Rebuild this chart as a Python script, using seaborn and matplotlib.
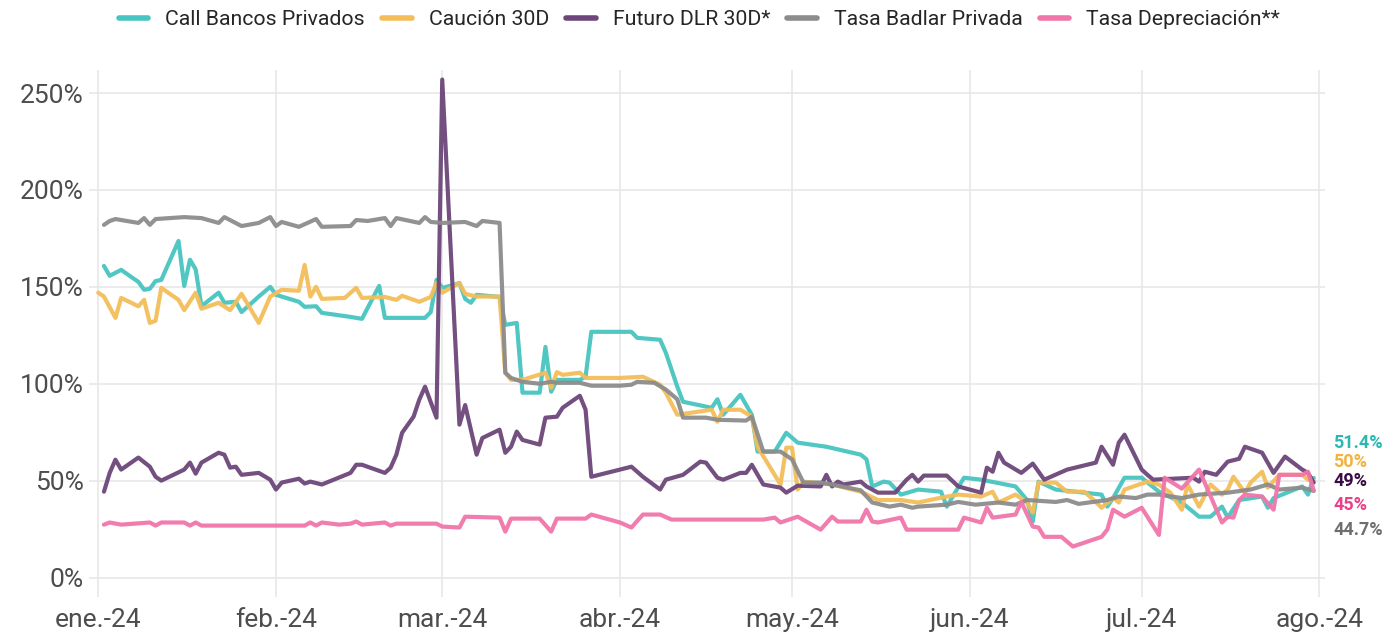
import numpy as np
import pandas as pd
import seaborn as sns
import matplotlib.pyplot as plt
from matplotlib.ticker import PercentFormatter
from matplotlib.transforms import blended_transform_factory

# DATA ###################################################################
# dias = days since 2024-01-01
series_names = ["Call Bancos Privados", "Caución 30D", "Futuro DLR 30D*",
                "Tasa Badlar Privada", "Tasa Depreciación**"]

call_dias = [1, 2, 4, 6, 7, 8, 9, 10, 11, 14, 15, 16, 17, 18, 21, 22, 24, 25, 28, 30,
             31, 35, 36, 38, 39, 44, 46, 49, 50, 57, 58, 59, 60, 62, 63, 64, 65, 66, 70, 71,
             73, 74, 77, 78, 79, 80, 84, 85, 86, 93, 94, 98, 99, 101, 102, 107, 108, 109, 112, 114,
             115, 118, 120, 122, 127, 133, 134, 135, 137, 138, 140, 143, 147, 148, 151, 154, 160, 162, 163, 164,
             167, 175, 176, 177, 179, 182, 185, 189, 192, 194, 196, 197, 199, 203, 204, 205, 210, 211, 212]
call_vals = [160.8, 155.7, 158.8, 154.6, 152.6, 148.5, 149, 153, 153.6, 173.7, 150.5, 164, 159, 140, 147, 141.8, 142.3, 137, 145, 150,
             145.9, 142.3, 139.7, 140, 136.6, 134.5, 133.5, 150.5, 134, 134, 137, 153.6, 149.5, 151, 152, 143.8, 141.8, 145.9, 144.8, 130.4,
             131.4, 95.4, 95.4, 119, 95.9, 102, 102, 103.6, 126.8, 126.8, 123.7, 122.7, 116, 98.5, 90.7, 87.6, 92, 84, 94.3, 84,
             65, 65, 74.7, 69.6, 67.5, 63.4, 61, 47, 49.5, 49, 42.8, 45.4, 44.3, 36.6, 51.5, 50.5, 47, 40, 28.9, 49.5,
             45.4, 42.8, 36.6, 41, 51.5, 51.5, 44.3, 38.7, 31.4, 31.4, 36.6, 31, 40, 41.8, 36, 41, 47, 42.8, 51.4]

caucion_dias = [0, 1, 3, 4, 7, 8, 9, 10, 11, 14, 15, 17, 18, 21, 23, 25, 28, 30, 32, 35,
                36, 37, 38, 39, 43, 45, 46, 50, 52, 53, 56, 58, 59, 60, 63, 64, 66, 70, 71, 72,
                74, 78, 79, 80, 81, 84, 85, 91, 95, 98, 99, 101, 107, 108, 109, 112, 114, 115, 119, 120,
                121, 122, 123, 128, 133, 136, 140, 143, 147, 150, 154, 156, 157, 160, 162, 163, 164, 167, 169, 172,
                174, 175, 177, 178, 179, 183, 185, 187, 189, 190, 192, 194, 196, 197, 198, 200, 201, 203, 204, 206,
                210, 211, 212]
caucion_vals = [147, 145, 134, 144.3, 140, 143.3, 131.4, 132.5, 149.5, 143.3, 138, 147, 138.7, 141.8, 138, 146.4, 131.4, 145, 148.5, 148,
                161.3, 145, 150, 143.8, 144.3, 149.5, 144.3, 144.8, 143.3, 145.4, 142.3, 144.8, 152, 147, 152, 146.4, 145, 145, 105.7, 102,
                102, 105.7, 98, 106, 104.6, 105.7, 103, 103, 103.6, 99.5, 95.4, 84, 86.6, 80.4, 86.6, 86.6, 83, 67.5, 48, 67,
                67, 45.4, 49.5, 48, 44.3, 40, 40, 38.7, 41.2, 42.8, 41.8, 44.3, 38.7, 42.8, 38.7, 33.5, 49, 49, 44.3, 44.3,
                39, 36, 41.2, 38.7, 45.4, 49.5, 48, 43.8, 35, 48, 36.6, 48, 42.8, 45.4, 52, 43.8, 49, 54.6, 46.4, 53,
                53, 50.5, 50]

futuro_dias = [1, 2, 3, 4, 7, 9, 10, 11, 15, 16, 17, 18, 21, 22, 23, 24, 25, 28, 30, 31,
               32, 35, 36, 37, 39, 44, 45, 46, 50, 51, 52, 53, 55, 56, 57, 59, 60, 63, 64, 66,
               67, 70, 71, 72, 73, 74, 77, 78, 80, 81, 84, 85, 86, 91, 93, 95, 98, 99, 102, 105,
               106, 108, 109, 112, 113, 114, 116, 119, 120, 122, 126, 127, 128, 129, 130, 133, 134, 136, 139, 141,
               142, 143, 144, 148, 150, 154, 155, 156, 157, 158, 161, 163, 165, 169, 174, 175, 177, 178, 179, 182,
               183, 184, 191, 192, 193, 195, 197, 199, 200, 203, 205, 207, 210, 211, 212]
futuro_vals = [44.3, 54, 60.8, 55.7, 61.9, 57.2, 52, 50, 55.7, 59.3, 53.6, 59.3, 64.4, 63.4, 56.7, 57.2, 53, 54, 50.5, 45.4,
               49, 51, 48.5, 49.5, 48, 54, 58.2, 58.2, 54, 56.7, 63.4, 74.7, 83, 91.8, 98.5, 82.5, 257, 78.9, 89, 63.4,
               72, 76.3, 64.4, 67.5, 75.3, 71, 68.6, 82.5, 83, 87.6, 93.8, 86.6, 52, 55.7, 57.2, 52, 45.4, 50.5, 53, 59.8,
               59.3, 51.5, 50.5, 54, 54, 58.2, 48, 46.4, 43.8, 47.4, 47, 53, 47, 49.5, 48, 49.5, 47, 43.8, 43.8, 50.5,
               53, 49.5, 52.6, 52.6, 47, 43.8, 56.7, 54.6, 64.4, 59.3, 54, 58.8, 50.5, 55.7, 59.3, 67.5, 58.2, 69.6, 73.7, 55.7,
               53, 50.5, 51.5, 49.5, 54.6, 53, 59.8, 61.3, 67.5, 64.4, 54, 62.4, 55.7, 54, 49]

badlar_dias = [1, 2, 3, 7, 8, 9, 10, 15, 18, 21, 22, 25, 28, 30, 31, 32, 35, 38, 39, 44,
               45, 47, 50, 51, 52, 56, 57, 58, 60, 64, 66, 67, 70, 71, 72, 74, 77, 79, 80, 84,
               86, 91, 93, 94, 97, 99, 101, 102, 106, 108, 113, 114, 116, 119, 121, 123, 126, 128, 133, 135,
               138, 140, 142, 143, 148, 150, 153, 157, 160, 162, 167, 169, 171, 176, 178, 181, 183, 185, 189, 192,
               197, 201, 204, 206, 210, 212]
badlar_vals = [182, 184, 185, 183, 185.5, 182, 185, 186, 185.5, 183, 186, 181.4, 183, 186, 181.4, 183.5, 181, 185, 181, 181.4,
               184.5, 184, 185.5, 181.4, 185.5, 183, 186, 183.5, 183, 183.5, 181.4, 184, 183, 105.7, 103, 101, 100, 101, 100.5, 100.5,
               99, 99, 99.5, 101, 100.5, 97, 92, 82.5, 82.5, 81.4, 81, 83, 65, 65, 61, 49, 49, 48, 45, 38.7,
               36.6, 37.6, 36, 36.6, 37.6, 39, 37.6, 38.7, 37.6, 40, 39, 40, 38, 40, 41.8, 41, 42.8, 42.8, 41, 42.8,
               43.8, 45.4, 48, 45.4, 46.4, 44.7]

deprec_dias = [1, 2, 4, 9, 10, 11, 15, 16, 17, 18, 36, 37, 38, 39, 42, 44, 45, 46, 50, 51,
               52, 53, 59, 60, 63, 64, 70, 71, 72, 77, 79, 80, 85, 86, 91, 93, 95, 98, 100, 116,
               118, 119, 122, 126, 128, 129, 133, 134, 135, 136, 140, 141, 150, 151, 154, 155, 156, 160, 161, 163,
               164, 165, 168, 170, 175, 176, 177, 179, 182, 185, 186, 189, 192, 196, 197, 198, 199, 200, 203, 205,
               206, 210, 211, 212]
deprec_vals = [27.3, 28.4, 27.3, 28.4, 26.8, 28.4, 28.4, 26.8, 28.4, 26.8, 26.8, 28.4, 26.8, 28.4, 27.3, 27.8, 28.9, 27.3, 28.4, 26.8,
               27.8, 27.8, 27.8, 26.3, 25.8, 31.4, 30.9, 23.7, 30.4, 30.4, 23.7, 30.4, 30.4, 32.5, 28.4, 25.8, 32.5, 32.5, 29.9, 29.9,
               30.9, 28.4, 31.4, 24.7, 31.4, 28.9, 28.9, 35, 28.9, 28.4, 30.9, 24.7, 24.7, 30.9, 28.4, 36, 30.9, 32.5, 39, 26.3,
               25.8, 21, 21, 16, 21, 24.7, 35, 31.4, 36, 22, 51.5, 45.9, 55.7, 28.4, 31.4, 30.9, 40, 42.8, 41.8, 35,
               53, 53, 54.6, 45]

month_labels = ["ene.-24", "feb.-24", "mar.-24", "abr.-24", "may.-24", "jun.-24", "jul.-24", "ago.-24"]

line_colors = ["#48C4C1", "#F3BE5A", "#6D467A", "#8C8C8C", "#F076AA"]
label_colors = ["#2DB7B2", "#F2B33D", "#3B0B45", "#E8418A", "#6E6E6E"]

# BUILD LONG TABLE #######################################################
base = pd.Timestamp("2024-01-01")
all_dias = [call_dias, caucion_dias, futuro_dias, badlar_dias, deprec_dias]
all_vals = [call_vals, caucion_vals, futuro_vals, badlar_vals, deprec_vals]
frames = []
for name, d, v in zip(series_names, all_dias, all_vals):
    frames.append(pd.DataFrame({"fecha": base + pd.to_timedelta(d, unit="D"),
                                "tasa": v, "serie": name}))
df = pd.concat(frames, ignore_index=True)

# PLOT ###################################################################
sns.set_theme(style="whitegrid")
plt.rcParams["font.family"] = ["Roboto", "DejaVu Sans"]

fig = plt.figure(figsize=(13.85, 6.35), dpi=100)
ax = fig.add_axes([0.0643, 0.060, 0.8925, 0.830])

sns.lineplot(data=df, x="fecha", y="tasa", hue="serie", hue_order=series_names,
             palette=line_colors, linewidth=3.0, alpha=0.95, errorbar=None, ax=ax, legend=False)

ax.set_xlim(base - pd.Timedelta(days=1.6), base + pd.Timedelta(days=214))
ax.set_ylim(-10, 262)
ax.set_yticks([0, 50, 100, 150, 200, 250])
ax.yaxis.set_major_formatter(PercentFormatter(decimals=0))
ax.set_xticks(pd.date_range("2024-01-01", "2024-08-01", freq="MS"))
ax.set_xticklabels(month_labels)
ax.tick_params(axis="both", labelsize=19, labelcolor="#4D4D4D", length=0, pad=4)
ax.tick_params(axis="x", pad=8)
ax.set_xlabel("")
ax.set_ylabel("")
ax.grid(color="#E6E6E6", linewidth=1.1)
for s in ax.spines.values():
    s.set_visible(False)

# last value labels (positions repelled by hand)
label_pos = [69.6, 59.8, 50.0, 37.6, 24.7]
label_order = [0, 1, 2, 4, 3]
trans = blended_transform_factory(ax.transAxes, ax.transData)
for k, i in enumerate(label_order):
    last = all_vals[i][-1]
    ax.text(1.0065, label_pos[k], f"{last:g}%", transform=trans, color=label_colors[k],
            fontsize=13, fontweight="bold", va="center", ha="left", clip_on=False)

handles = [plt.Line2D([], [], color=c, linewidth=4) for c in line_colors]
fig.legend(handles, series_names, loc="upper center", bbox_to_anchor=(0.505, 1.014), ncol=5,
           frameon=False, fontsize=15.3, handlelength=1.4, columnspacing=0.8, handletextpad=0.8)

fig.savefig("out.png", dpi=100, facecolor="white")
